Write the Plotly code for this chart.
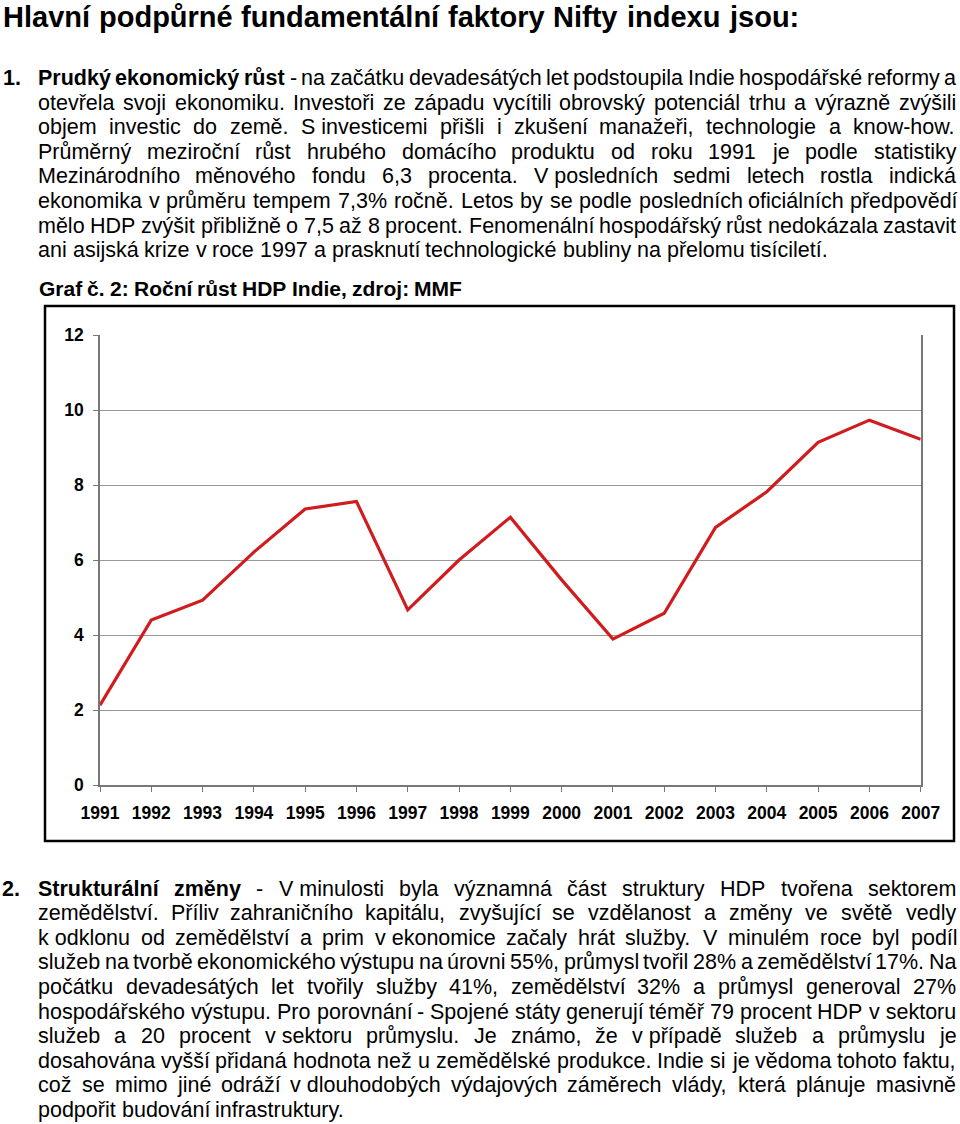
import unicodedata

import plotly.graph_objects as go

W, H = 960, 1124
FONT = "Liberation Sans, Arial, sans-serif"

# GDP growth of India, % per year (IMF)
years = list(range(1991, 2008))
gdp_growth = [2.13, 4.40, 4.93, 6.21, 7.36, 7.56, 4.67, 6.0, 7.14, 5.47,
              3.89, 4.58, 6.87, 7.82, 9.14, 9.73, 9.22]
y_ticks = [0, 2, 4, 6, 8, 10, 12]

title = "Hlavní podpůrné fundamentální faktory Nifty indexu jsou:"
chart_caption = "Graf č. 2: Roční růst HDP Indie, zdroj: MMF"

NB = "\u00a0"  # non-breaking space, not stretched when justifying

# (line text, number of leading bold words, justified?)
para1 = [
    ("Prudký ekonomický růst - na začátku devadesátých let podstoupila Indie hospodářské reformy a", 3, True),
    ("otevřela svoji ekonomiku. Investoři ze západu vycítili obrovský potenciál trhu a výrazně zvýšili", 0, True),
    (f"objem investic do země. S{NB}investicemi přišli i zkušení manažeři, technologie a know-how.", 0, True),
    ("Průměrný meziroční růst hrubého domácího produktu od roku 1991 je podle statistiky", 0, True),
    (f"Mezinárodního měnového fondu 6,3 procenta. V{NB}posledních sedmi letech rostla indická", 0, True),
    ("ekonomika v průměru tempem 7,3% ročně. Letos by se podle posledních oficiálních předpovědí", 0, True),
    ("mělo HDP zvýšit přibližně o 7,5 až 8 procent. Fenomenální hospodářský růst nedokázala zastavit", 0, True),
    ("ani asijská krize v roce 1997 a prasknutí technologické bubliny na přelomu tisíciletí.", 0, False),
]
para2 = [
    (f"Strukturální změny - V{NB}minulosti byla významná část struktury HDP tvořena sektorem", 2, True),
    ("zemědělství. Příliv zahraničního kapitálu, zvyšující se vzdělanost a změny ve světě vedly", 0, True),
    (f"k{NB}odklonu od zemědělství a prim v{NB}ekonomice začaly hrát služby. V minulém roce byl podíl", 0, True),
    ("služeb na tvorbě ekonomického výstupu na úrovni 55%, průmysl tvořil 28% a zemědělství 17%. Na", 0, True),
    ("počátku devadesátých let tvořily služby 41%, zemědělství 32% a průmysl generoval 27%", 0, True),
    (f"hospodářského výstupu. Pro porovnání - Spojené státy generují téměř 79 procent HDP v{NB}sektoru", 0, True),
    (f"služeb a 20 procent v{NB}sektoru průmyslu. Je známo, že v{NB}případě služeb a průmyslu je", 0, True),
    ("dosahována vyšší přidaná hodnota než u zemědělské produkce. Indie si je vědoma tohoto faktu,", 0, True),
    (f"což se mimo jiné odráží v{NB}dlouhodobých výdajových záměrech vlády, která plánuje masivně", 0, True),
    ("podpořit budování infrastruktury.", 0, False),
]

# Arial / Liberation Sans advance widths (1/1000 em), used to justify lines
_LOW = "abcdefghijklmnopqrstuvwxyz"
_UP = "ABCDEFGHIJKLMNOPQRSTUVWXYZ"
_REG = dict(zip(_LOW, [556, 556, 500, 556, 556, 278, 556, 556, 222, 222, 500, 222, 833,
                       556, 556, 556, 556, 333, 500, 278, 556, 500, 722, 500, 500, 500]))
_REG.update(zip(_UP, [667, 667, 722, 722, 667, 611, 778, 722, 278, 500, 667, 556, 833,
                      722, 778, 667, 778, 722, 667, 611, 722, 667, 944, 667, 667, 611]))
_REG.update({" ": 278, NB: 278, ".": 278, ",": 278, ":": 278, "-": 333, "%": 889})
_BOLD = dict(zip(_LOW, [556, 611, 556, 611, 556, 333, 611, 611, 278, 278, 556, 278, 889,
                        611, 611, 611, 611, 389, 556, 333, 611, 556, 778, 556, 556, 500]))
_BOLD.update(zip(_UP, [722, 722, 722, 722, 667, 611, 778, 722, 278, 556, 722, 611, 833,
                       722, 778, 667, 778, 722, 667, 611, 722, 667, 944, 667, 667, 611]))
_BOLD.update({" ": 278, NB: 278, ".": 278, ",": 278, ":": 333, "-": 333, "%": 889})


def text_px(s, size, bold=False):
    table = _BOLD if bold else _REG
    units = sum(table.get(unicodedata.normalize("NFD", ch)[0], 556) for ch in s)
    return units * size / 1000


annotations = []


def put_text(text, x, baseline, size, bold=False):
    center = baseline - 0.3465 * size
    annotations.append(dict(
        text=f"<b>{text}</b>" if bold else text,
        x=x / W, y=1 - center / H, xref="paper", yref="paper",
        xanchor="left", yanchor="middle", showarrow=False,
        borderpad=0, borderwidth=0,
        font=dict(family=FONT, size=size, color="black"),
    ))


def set_line(text, n_bold, justify, x0, x1, baseline, size):
    words = text.split(" ")
    bolds = [i < n_bold for i in range(len(words))]
    widths = [text_px(w, size, b) for w, b in zip(words, bolds)]
    if justify and len(words) > 1:
        gap = max((x1 - x0 - sum(widths)) / (len(words) - 1), 2)
    else:
        gap = text_px(" ", size)
    x = x0
    for w, b, wd in zip(words, bolds, widths):
        put_text(w, x, baseline, size, b)
        x += wd + gap


BODY = 21.5
LEFT, RIGHT = 38, 956
PITCH = 24.6

set_line(title, 99, True, 3, 798, 27, 29)

put_text("1.", 3, 85.5, BODY, bold=True)
for i, (txt, nb, just) in enumerate(para1):
    set_line(txt, nb, just, LEFT, RIGHT, 85.5 + i * PITCH, BODY)

set_line(chart_caption, 99, True, 39, 462, 295.5, 21)

put_text("2.", 2, 896, BODY, bold=True)
for i, (txt, nb, just) in enumerate(para2):
    set_line(txt, nb, just, LEFT, RIGHT, 896 + i * PITCH, BODY)

fig = go.Figure()
fig.add_trace(go.Scatter(
    x=years, y=gdp_growth, mode="lines",
    line=dict(color="#d01c1f", width=3.2),
    showlegend=False, hoverinfo="x+y",
))

fig.add_shape(type="rect", xref="paper", yref="paper",
              x0=45 / W, x1=954 / W, y0=1 - 841 / H, y1=1 - 306 / H,
              line=dict(color="black", width=2.5), layer="below")

tick_font = dict(family=FONT, size=17.5, color="black", weight="bold")
fig.update_layout(
    width=W, height=H,
    margin=dict(l=0, r=0, t=0, b=0, autoexpand=False),
    paper_bgcolor="white", plot_bgcolor="white",
    annotations=annotations,
    xaxis=dict(
        domain=[100 / W, 920.7 / W], range=[1991, 2007],
        tickvals=years, ticks="outside", ticklen=5, tickcolor="#777",
        showline=True, linecolor="#777", linewidth=1.5,
        showgrid=False, zeroline=False, tickfont=tick_font,
        ticklabelstandoff=6,
    ),
    yaxis=dict(
        domain=[1 - 785 / H, 1 - 335 / H], range=[0, 12],
        tickvals=y_ticks, ticks="outside", ticklen=5, tickcolor="#777",
        showline=True, mirror=True, linecolor="#777", linewidth=1.5,
        showgrid=True, gridcolor="#999", gridwidth=1,
        zeroline=False, tickfont=tick_font, ticklabelstandoff=6,
    ),
)

fig.write_html("out.html", config={"displayModeBar": False},
               post_script="document.body.style.margin='0';")
